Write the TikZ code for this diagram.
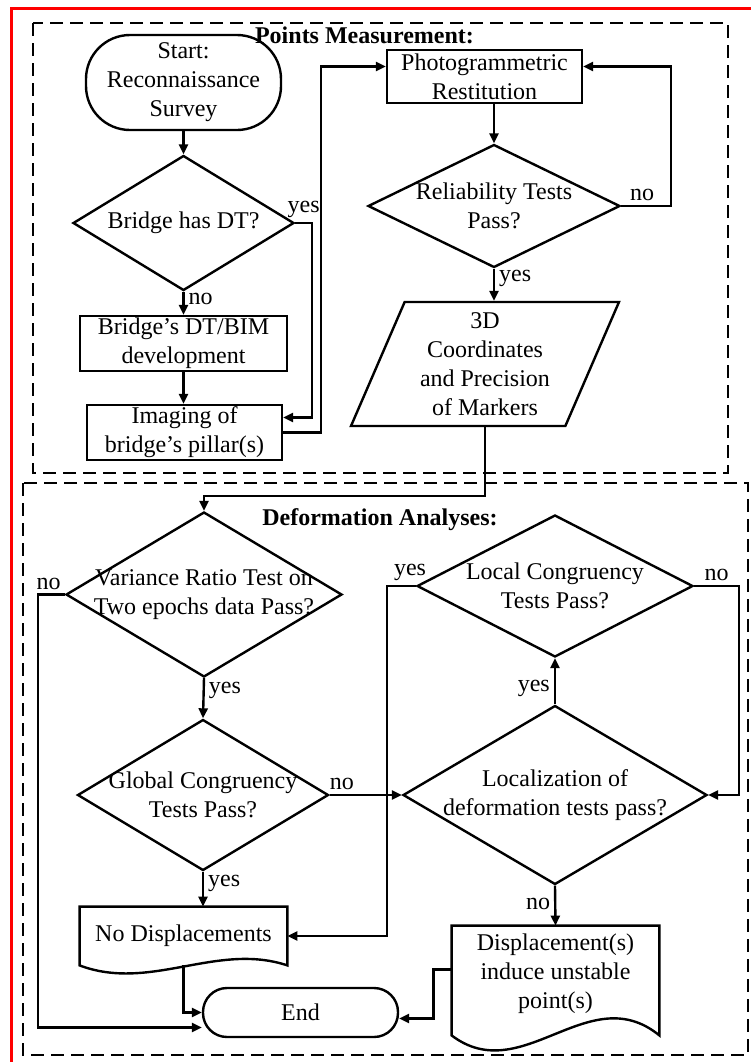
\documentclass[tikz,border=0pt]{standalone}
\usepackage{fontspec}
\setmainfont{Liberation Serif}
\usetikzlibrary{shapes.geometric,arrows.meta,calc}

\tikzset{
  txt/.style={align=center, inner sep=1pt, font=\fontsize{12}{14.5}\selectfont},
  process/.style={txt, draw, line width=1.2pt, rectangle},
  terminal/.style={process, rounded corners=#1},
  decision/.style={draw, line width=1.2pt, diamond, inner sep=0pt},
  io/.style={txt, draw, line width=1.2pt, trapezium, trapezium left angle=63.4,
    trapezium right angle=116.6, trapezium stretches body},
  docbox/.style={txt, rectangle, inner sep=0pt},
  line/.style={line width=1.2pt},
  arr/.style={line, -{Triangle[length=5pt,width=4.5pt]}},
  lbl/.style={font=\fontsize{12}{14.5}\selectfont, inner sep=2pt},
  group/.style={line width=1.2pt, dash pattern=on 6.5pt off 3.5pt},
  title/.style={font=\fontsize{12}{14.5}\selectfont\bfseries, inner sep=0pt}
}

\begin{document}
\begin{tikzpicture}[x=0.5pt, y=-0.5pt]
  \useasboundingbox (0,0) rectangle (751,1062);
  \draw[red, line width=1.5pt] (11,1062) -- (11,8) -- (751,8);

  % groups
  \draw[group] (33,23) rectangle (728,473);
  \draw[group] (23,483) rectangle (748,1055);
  \node[title] (pmtitle) at (364.5,35) {Points Measurement:};
  \node[title] (datitle) at (380,520) {Deformation Analyses:};

  % points measurement
  \node[terminal=22pt, minimum width=97.5pt, minimum height=47.5pt] (start) at (183.5,82.5) {Start:\\Reconnaissance\\Survey};
  \node[decision, minimum width=110.5pt, minimum height=67.5pt, label={[txt]center:Bridge has DT?}] (bdt) at (183.5,223) {};
  \node[process, minimum width=103.5pt, minimum height=26.5pt] (dev) at (183.5,343.5) {Bridge’s DT/BIM\\development};
  \node[process, minimum width=97.5pt, minimum height=25.5pt] (img) at (184.5,432.5) {Imaging of\\bridge’s pillar(s)};
  \node[process, minimum width=97.5pt, minimum height=26.5pt] (pr) at (484.5,76.5) {Photogrammetric\\Restitution};
  \node[decision, minimum width=126pt, minimum height=61.5pt, label={[txt]center:Reliability Tests\\Pass?}] (rel) at (494,206) {};
  \node[io, minimum width=134pt, minimum height=62pt] (coord) at (485,364) {3D\\Coordinates\\and Precision\\of Markers};

  % deformation analyses
  \node[decision, minimum width=138pt, minimum height=82.5pt, label={[txt]center:Variance Ratio Test on\\Two epochs data Pass?}] (var) at (204,594.5) {};
  \node[decision, minimum width=125.5pt, minimum height=75.5pt, label={[txt]center:Global Congruency\\Tests Pass?}] (glob) at (203,795) {};
  \node[decision, minimum width=138pt, minimum height=71pt, label={[txt]center:Local Congruency\\Tests Pass?}] (lc) at (555,586) {};
  \node[decision, minimum width=152pt, minimum height=89.5pt, label={[txt]center:Localization of\\deformation tests pass?}] (loc) at (555,795) {};
  \node[docbox, minimum width=103.5pt, minimum height=29pt] (nodisp) at (183.5,936) {No Displacements};
  \node[docbox, minimum width=103.5pt, minimum height=54.5pt, label={[txt, yshift=3.5pt]center:Displacement(s)\\induce unstable\\point(s)}] (disp) at (555.5,980.5) {};
  \node[terminal=12pt, minimum width=97.5pt, minimum height=24.5pt] (end) at (300.5,1012.5) {End};

  % document outlines
  \draw[line] (nodisp.south east) -- (nodisp.north east) -- (nodisp.north west) -- (nodisp.south west)
    .. controls ($(nodisp.south west)!0.34!(nodisp.south east)+(0,26.7)$) and ($(nodisp.south west)!0.66!(nodisp.south east)+(0,-23.6)$) .. cycle;
  \draw[line] (disp.south east) -- (disp.north east) -- (disp.north west) -- (disp.south west)
    .. controls ($(disp.south west)!0.34!(disp.south east)+(0,53.5)$) and ($(disp.south west)!0.66!(disp.south east)+(0,-57.6)$) .. cycle;

  % connectors
  \draw[arr] (start.south) -- (bdt.north);
  \draw[arr] (bdt.south) -- node[lbl, anchor=west, pos=0.3] {no} (dev.north);
  \draw[arr] (dev.south) -- (dev.south |- img.north);
  \draw[arr] (bdt.east) -- node[lbl, above] {yes} ++(17,0) |- ([yshift=7.5pt]img.east);
  \draw[arr] (img.east) -- ++(38,0) |- ([yshift=5pt]pr.west);
  \draw[arr] (pr.south -| rel.north) -- (rel.north);
  \draw[arr] (rel.east) -- node[lbl, above, pos=0.42] {no} ++(50,0) |- ([yshift=5pt]pr.east);
  \draw[arr] (rel.south) -- node[lbl, anchor=west, pos=0.3] {yes} (rel.south |- coord.north);
  \draw[arr] (coord.center |- coord.south) |- ([yshift=7.5pt]var.north) -- (var.north);

  \draw[arr] (var.west) -- node[lbl, above, pos=0.6] {no} ++(-27,0) |- ([yshift=-7.5pt]end.west);
  \draw[arr] (var.south) -- node[lbl, anchor=west, pos=0.3] {yes} (glob.north);
  \draw[arr] (glob.south) -- node[lbl, anchor=west, pos=0.35] {yes} (glob.south |- nodisp.north);
  \draw[arr] (glob.east) -- node[lbl, above, pos=0.17] {no} (loc.west);
  \draw[arr] (nodisp.south) |- (end.west);
  \draw[arr] (lc.west) -- node[lbl, above, pos=0.2] {yes} ++(-29,0) |- (nodisp.east);
  \draw[arr] (lc.east) -- node[lbl, above] {no} ++(45,0) |- (loc.east);
  \draw[arr] (loc.north) -- node[lbl, anchor=east, pos=0.35] {yes} (lc.south);
  \draw[arr] (loc.south) -- node[lbl, anchor=east, pos=0.45] {no} (disp.north);
  \draw[arr] ([yshift=5.5pt]disp.west) -- ++(-18,0) |- ([yshift=-3pt]end.east);
\end{tikzpicture}
\end{document}
